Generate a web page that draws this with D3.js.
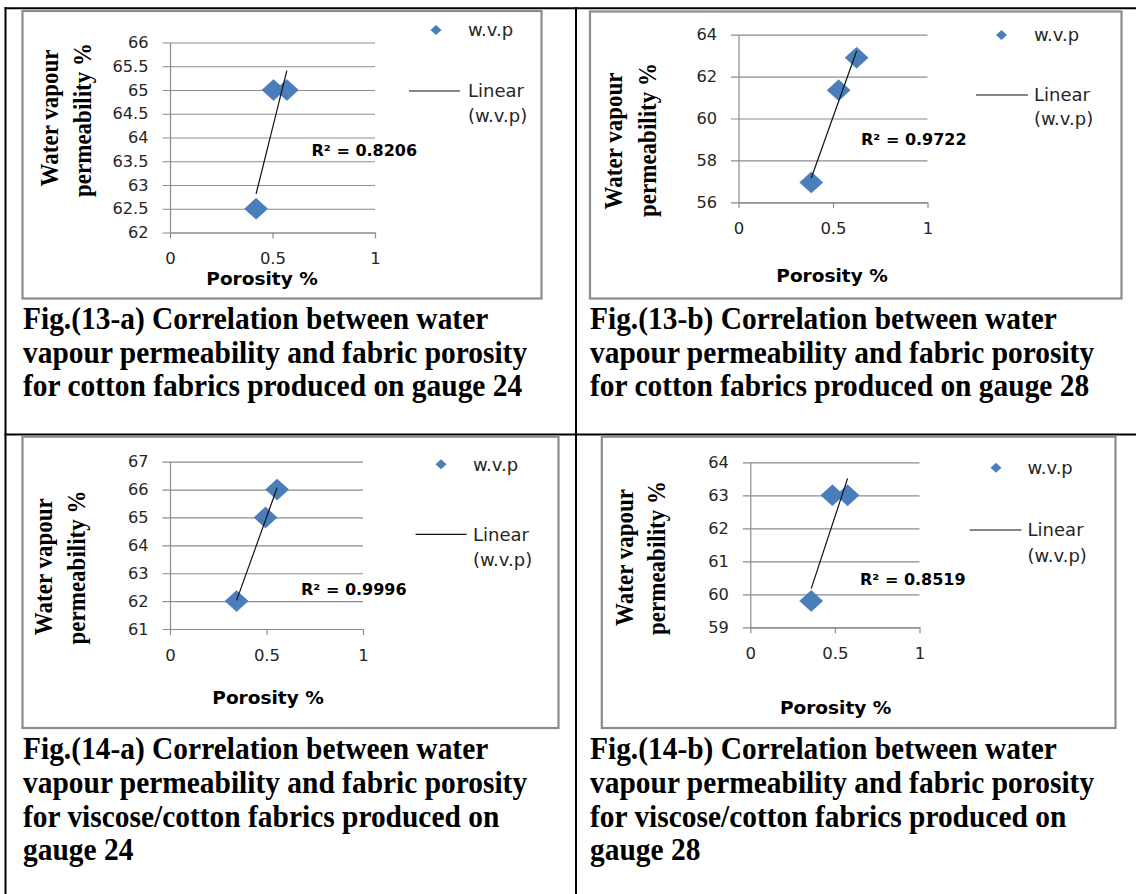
<!DOCTYPE html>
<html>
<head>
<meta charset="utf-8">
<script src="https://cdn.jsdelivr.net/npm/d3@7"></script>
<style>
  body { margin: 0; background: #fff; }
  svg { display: block; }
</style>
</head>
<body>
<svg id="fig" width="1136" height="894"></svg>
<script>
// ---- data: porosity (x) against water vapour permeability (y) ----
const porosity13a = [0.42, 0.505, 0.57];
const wvp13a = [62.5, 65, 65];
const porosity13b = [0.385, 0.53, 0.625];
const wvp13b = [56.95, 61.35, 62.9];
const porosity14a = [0.345, 0.495, 0.555];
const wvp14a = [62, 65, 66];
const porosity14b = [0.36, 0.485, 0.575];
const wvp14b = [59.8, 63, 63];

const r2Labels = ["R² = 0.8206", "R² = 0.9722", "R² = 0.9996", "R² = 0.8519"];

const xTicks = [0, 0.5, 1];
const yTicks13a = [62, 62.5, 63, 63.5, 64, 64.5, 65, 65.5, 66];
const yTicks13b = [56, 58, 60, 62, 64];
const yTicks14a = [61, 62, 63, 64, 65, 66, 67];
const yTicks14b = [59, 60, 61, 62, 63, 64];

const seriesName = "w.v.p";
const trendName = ["Linear", "(w.v.p)"];
const xTitle = "Porosity %";
const yTitle = ["Water vapour", "permeability %"];

const caption13a = ["Fig.(13-a) Correlation between water",
                    "vapour permeability and fabric porosity",
                    "for cotton fabrics produced on gauge 24"];
const caption13b = ["Fig.(13-b) Correlation between water",
                    "vapour permeability and fabric porosity",
                    "for cotton fabrics produced on gauge 28"];
const caption14a = ["Fig.(14-a) Correlation between water",
                    "vapour permeability and fabric porosity",
                    "for viscose/cotton fabrics produced on",
                    "gauge 24"];
const caption14b = ["Fig.(14-b) Correlation between water",
                    "vapour permeability and fabric porosity",
                    "for viscose/cotton fabrics produced on",
                    "gauge 28"];

// ---- layout of the four cells ----
const panels = [
  { xs: porosity13a, ys: wvp13a, yTicks: yTicks13a, r2: r2Labels[0], caption: caption13a,
    box: [22.5, 11, 541.5, 298.5], plot: [170, 375, 42.5, 232.5],
    xTitle: [262, 278.5], yTitle: [[49.5, 118], [82.5, 120]],
    legDot: [436, 30], legText: 468, legLine: [409, 460, 91], legLin: [91, 115.5],
    r2Pos: [311.5, 150.5], capX: 23, capY: [329, 362.5, 396] },
  { xs: porosity13b, ys: wvp13b, yTicks: yTicks13b, r2: r2Labels[1], caption: caption13b,
    box: [590, 11.5, 1121.5, 298.5], plot: [738.5, 927.5, 34.7, 202.3],
    xTitle: [832, 276], yTitle: [[614, 141], [648, 140]],
    legDot: [1001.5, 35], legText: 1034, legLine: [976, 1028, 95], legLin: [95, 119],
    r2Pos: [861, 139], capX: 590, capY: [329, 362.5, 396] },
  { xs: porosity14a, ys: wvp14a, yTicks: yTicks14a, r2: r2Labels[2], caption: caption14a,
    box: [22.5, 436.7, 558.5, 728], plot: [170, 363, 461.7, 629],
    xTitle: [268, 698], yTitle: [[43.6, 566.7], [76.4, 567.5]],
    legDot: [441, 464.3], legText: 473, legLine: [415.6, 466.5, 534.3], legLin: [534.3, 559.3],
    r2Pos: [301, 589], capX: 23, capY: [759, 793, 826.5, 860] },
  { xs: porosity14b, ys: wvp14b, yTicks: yTicks14b, r2: r2Labels[3], caption: caption14b,
    box: [601.8, 436.7, 1115.5, 728], plot: [750.3, 919.5, 462.3, 627.3],
    xTitle: [835.6, 707.7], yTitle: [[625, 557.5], [656.6, 558]],
    legDot: [996, 467.7], legText: 1027.6, legLine: [969.6, 1021.5, 530], legLin: [530, 556],
    r2Pos: [860, 579], capX: 590, capY: [759, 793, 826.5, 860] }
];

const svg = d3.select("#fig");
const GRID = "#8c8c8c";
const BLUE = "#4a7ebb";
const SANS = "'DejaVu Sans', Verdana, sans-serif";
const SERIF = "'Liberation Serif', 'Times New Roman', serif";
const SERIF_SQUEEZE = 0.92;   // narrow-set serif lettering

// table rules
const rules = svg.append("g").attr("stroke", "#000").attr("stroke-width", 2);
rules.append("line").attr("x1", 4.5).attr("x2", 1136).attr("y1", 8.3).attr("y2", 8.3);
rules.append("line").attr("x1", 4.5).attr("x2", 1136).attr("y1", 434.6).attr("y2", 434.6);
rules.append("line").attr("x1", 5.5).attr("x2", 5.5).attr("y1", 7.3).attr("y2", 894);
rules.append("line").attr("x1", 576).attr("x2", 576).attr("y1", 7.3).attr("y2", 894);

function diamond(w, h) {
  return `M0,${-h}L${w},0L0,${h}L${-w},0Z`;
}

// least-squares fit used for the linear trendline
function linearFit(xs, ys) {
  const mx = d3.mean(xs), my = d3.mean(ys);
  let sxy = 0, sxx = 0;
  xs.forEach((v, i) => { sxy += (v - mx) * (ys[i] - my); sxx += (v - mx) * (v - mx); });
  const slope = sxy / sxx;
  return v => my + slope * (v - mx);
}

function drawPanel(p) {
  const g = svg.append("g");

  // chart area frame
  g.append("rect")
    .attr("x", p.box[0]).attr("y", p.box[1])
    .attr("width", p.box[2] - p.box[0]).attr("height", p.box[3] - p.box[1])
    .attr("fill", "#fff").attr("stroke", GRID).attr("stroke-width", 2.2);

  const x = d3.scaleLinear().domain([0, 1]).range([p.plot[0], p.plot[1]]);
  const y = d3.scaleLinear().domain(d3.extent(p.yTicks)).range([p.plot[3], p.plot[2]]);
  const w = p.plot[1] - p.plot[0];

  // value axis with horizontal gridlines
  const ya = g.append("g")
    .attr("transform", `translate(${p.plot[0]},0)`)
    .call(d3.axisLeft(y).tickValues(p.yTicks).tickFormat(d => String(d))
      .tickSize(-w).tickSizeOuter(0).tickPadding(21.5))
    .attr("font-family", SANS).attr("font-size", 16.2);
  ya.select(".domain").attr("stroke", GRID).attr("stroke-width", 1.2);
  ya.selectAll(".tick line").attr("x1", -7.5).attr("stroke", GRID).attr("stroke-width", 1.2);
  ya.selectAll(".tick text").attr("fill", "#262626");

  // porosity axis
  const xa = g.append("g")
    .attr("transform", `translate(0,${p.plot[3]})`)
    .call(d3.axisBottom(x).tickValues(xTicks).tickFormat(d => String(d))
      .tickSize(6).tickSizeOuter(0))
    .attr("font-family", SANS).attr("font-size", 16.5);
  xa.select(".domain").attr("stroke", GRID).attr("stroke-width", 1.2);
  xa.selectAll(".tick line").attr("stroke", GRID).attr("stroke-width", 1.2);
  xa.selectAll(".tick text").attr("y", 26).attr("dy", "0.35em").attr("fill", "#262626");

  // data markers
  g.append("g").selectAll("path")
    .data(p.xs.map((v, i) => [v, p.ys[i]]))
    .join("path")
    .attr("d", diamond(11.5, 10.5))
    .attr("transform", d => `translate(${x(d[0])},${y(d[1])})`)
    .attr("fill", BLUE).attr("stroke", "#4476b2").attr("stroke-width", 0.6);

  // linear trendline over the data range
  const fit = linearFit(p.xs, p.ys);
  const [x0, x1] = d3.extent(p.xs);
  g.append("line")
    .attr("x1", x(x0)).attr("y1", y(fit(x0)))
    .attr("x2", x(x1)).attr("y2", y(fit(x1)))
    .attr("stroke", "#111").attr("stroke-width", 1.2);

  // axis titles
  g.append("text")
    .attr("x", p.xTitle[0]).attr("y", p.xTitle[1]).attr("dy", "0.35em")
    .attr("text-anchor", "middle").attr("font-family", SANS)
    .attr("font-weight", "bold").attr("font-size", 18.5).attr("fill", "#000")
    .text(xTitle);
  yTitle.forEach((t, i) => {
    g.append("text")
      .attr("transform", `translate(${p.yTitle[i][0]},${p.yTitle[i][1]}) rotate(-90) scale(${SERIF_SQUEEZE},1)`)
      .attr("dominant-baseline", "central")
      .attr("text-anchor", "middle").attr("font-family", SERIF)
      .attr("font-weight", "bold").attr("font-size", 25).attr("fill", "#000")
      .text(t);
  });

  // legend
  g.append("path").attr("d", diamond(5.5, 5))
    .attr("transform", `translate(${p.legDot[0]},${p.legDot[1]})`).attr("fill", BLUE);
  g.append("text").attr("x", p.legText).attr("y", p.legDot[1]).attr("dy", "0.35em")
    .attr("font-family", SANS).attr("font-size", 18).attr("fill", "#262626").text(seriesName);
  g.append("line").attr("x1", p.legLine[0]).attr("x2", p.legLine[1])
    .attr("y1", p.legLine[2]).attr("y2", p.legLine[2])
    .attr("stroke", "#111").attr("stroke-width", 1.2);
  trendName.forEach((t, i) => {
    g.append("text").attr("x", p.legText).attr("y", p.legLin[i]).attr("dy", "0.35em")
      .attr("font-family", SANS).attr("font-size", 18).attr("fill", "#262626").text(t);
  });

  // R² annotation
  g.append("text").attr("x", p.r2Pos[0]).attr("y", p.r2Pos[1]).attr("dy", "0.35em")
    .attr("font-family", SANS).attr("font-weight", "bold").attr("font-size", 16)
    .attr("fill", "#000").text(p.r2);

  // figure caption
  p.caption.forEach((t, i) => {
    svg.append("text")
      .attr("transform", `translate(${p.capX},${p.capY[i]}) scale(${SERIF_SQUEEZE},1)`)
      .attr("font-family", SERIF).attr("font-weight", "bold").attr("font-size", 32)
      .attr("fill", "#000").text(t);
  });
}

panels.forEach(drawPanel);
</script>
</body>
</html>
